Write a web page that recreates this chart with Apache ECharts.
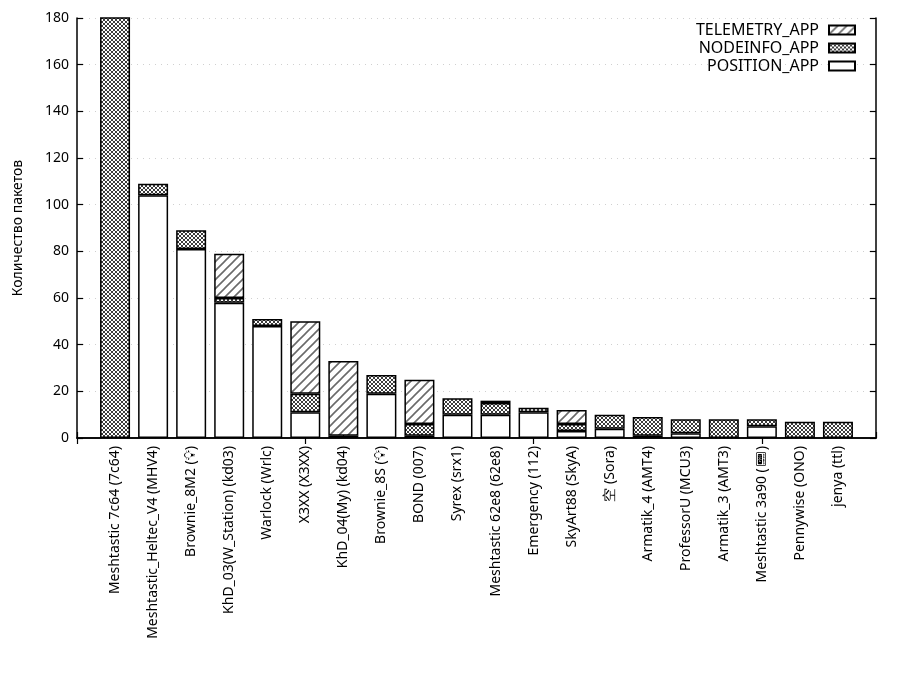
<!DOCTYPE html>
<html>
<head>
<meta charset="utf-8">
<script src="https://cdn.jsdelivr.net/npm/echarts@6/dist/echarts.min.js"></script>
<style>
  html, body { margin: 0; padding: 0; background: #fff; }
  #chart { width: 900px; height: 700px; }
</style>
</head>
<body>
<div id="chart"></div>
<script>
const names = [
  'Meshtastic 7c64 (7c64)', 'Meshtastic_Heltec_V4 (MHV4)', 'Brownie_8M2 (💡\uFE0E)',
  'KhD_03(W_Station) (kd03)', 'Warlock (Wrlc)', 'X3XX (X3XX)', 'KhD_04(My) (kd04)',
  'Brownie_8S (💡\uFE0E)', 'BOND (007)', 'Syrex (srx1)', 'Meshtastic 62e8 (62e8)',
  'Emergency (112)', 'SkyArt88 (SkyA)', '空 (Sora)', 'Armatik_4 (AMT4)',
  'ProfessorU (MCU3)', 'Armatik_3 (AMT3)', 'Meshtastic 3a90 (📟\uFE0E)', 'Pennywise (ONO)', 'jenya (ttl)'
]
const position = [0, 104, 81, 58, 48, 11, 0, 19, 1, 10, 10, 11, 3, 4, 1, 2, 0, 5, 0, 0]
const nodeinfo = [195, 5, 8, 2, 3, 8, 1, 8, 5, 7, 5, 2, 3, 6, 8, 6, 8, 3, 7, 7]
const telemetry = [0, 0, 0, 19, 0, 31, 32, 0, 19, 0, 1, 0, 6, 0, 0, 0, 0, 0, 0, 0]
const yTicks = { min: 0, max: 180, interval: 20 }

// gnuplot style fill patterns
function hatchTile() {
  const c = document.createElement('canvas')
  c.width = 9; c.height = 9
  const g = c.getContext('2d')
  g.fillStyle = '#fff'; g.fillRect(0, 0, 9, 9)
  g.strokeStyle = '#6a6a6a'; g.lineWidth = 1.6
  g.beginPath()
  g.moveTo(-1, 10); g.lineTo(10, -1)
  g.moveTo(-2, 2); g.lineTo(2, -2)
  g.moveTo(7, 11); g.lineTo(11, 7)
  g.stroke()
  return c
}
function crossTile() {
  const c = document.createElement('canvas')
  c.width = 4; c.height = 4
  const g = c.getContext('2d')
  g.fillStyle = '#fff'; g.fillRect(0, 0, 4, 4)
  g.fillStyle = '#3c3c3c'
  for (let i = 0; i < 4; i++) {
    g.fillRect(i, i, 1, 1)
    g.fillRect(i, 3 - i, 1, 1)
  }
  return c
}

// one empty slot each side, like gnuplot's xrange [-1:20]
const cats = ['', ...names, '']
const pad = arr => ['-', ...arr.map(v => v || '-'), '-']
const font = 'Noto Sans'

function barSeries(name, data, color) {
  return {
    name, type: 'bar', stack: 'total', barWidth: 30,
    data: pad(data),
    itemStyle: { color, borderColor: '#000', borderWidth: 1.5 },
    emphasis: { disabled: true }
  }
}

const axisLine = { show: true, lineStyle: { color: '#000', width: 1.5 } }
const tick = { show: true, inside: true, length: 6, lineStyle: { color: '#000', width: 1.2 } }

const chart = echarts.init(document.getElementById('chart'))
chart.setOption({
  animation: false,
  textStyle: { fontFamily: font },
  grid: { left: 77, right: 24, top: 18, bottom: 262 },
  legend: {
    orient: 'vertical', right: 39, top: 17, align: 'right', icon: 'rect',
    itemWidth: 26, itemHeight: 9, itemGap: 2,
    textStyle: { fontFamily: font, fontSize: 16, color: '#000', padding: [0, 5, 0, 0] },
    data: ['TELEMETRY_APP', 'NODEINFO_APP', 'POSITION_APP']
  },
  xAxis: [{
    type: 'category', data: cats, boundaryGap: false, position: 'bottom',
    axisLine, axisTick: tick,
    axisLabel: { rotate: 90, interval: 0, margin: 8, fontSize: 14, color: '#000', fontFamily: font }
  }, {
    type: 'category', data: cats, boundaryGap: false, position: 'top',
    axisLine, axisTick: tick,
    axisLabel: { show: false }
  }],
  yAxis: [{
    type: 'value', ...yTicks, position: 'left',
    name: 'Количество пакетов', nameLocation: 'middle', nameGap: 52,
    nameTextStyle: { fontSize: 14, color: '#000', fontFamily: font },
    axisLine, axisTick: tick,
    axisLabel: { fontSize: 14, color: '#000', margin: 8, fontFamily: font },
    splitLine: { show: true, lineStyle: { type: [1, 5], color: '#d0d0d0' } }
  }, {
    type: 'value', ...yTicks, position: 'right',
    axisLine, axisTick: tick,
    axisLabel: { show: false },
    splitLine: { show: false }
  }],
  series: [
    barSeries('POSITION_APP', position, '#fff'),
    barSeries('NODEINFO_APP', nodeinfo, { image: crossTile(), repeat: 'repeat' }),
    barSeries('TELEMETRY_APP', telemetry, { image: hatchTile(), repeat: 'repeat' })
  ]
})
</script>
</body>
</html>
